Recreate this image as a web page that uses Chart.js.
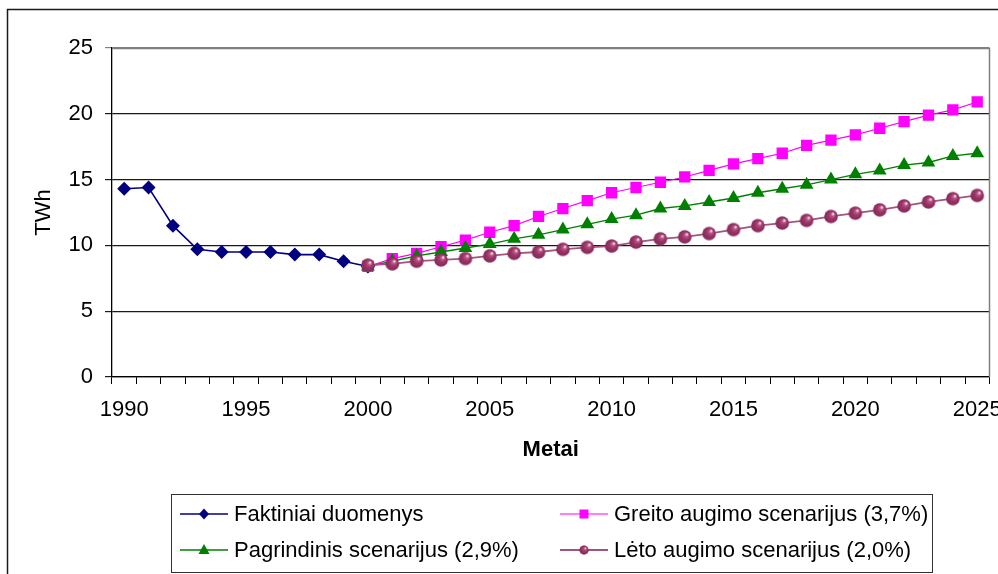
<!DOCTYPE html>
<html lang="lt">
<head>
<meta charset="utf-8">
<title>Elektros energijos poreikis</title>
<script src="https://cdn.jsdelivr.net/npm/chart.js@4/dist/chart.umd.min.js"></script>
<style>
  html, body { margin: 0; padding: 0; background: #ffffff; }
  #wrap { width: 998px; height: 574px; position: relative; }
  canvas { display: block; }
</style>
</head>
<body>
<div id="wrap"><canvas id="chart" width="998" height="574"></canvas></div>
<script>
// Years on the category axis
const years = [];
for (let y = 1990; y <= 2025; y++) years.push(String(y));

// Actual consumption, 1990–2000 (TWh)
const faktiniai = [14.3, 14.4, 11.5, 9.7, 9.5, 9.5, 9.5, 9.3, 9.3, 8.8, 8.4];

// Forecast scenarios, 2000–2025 (TWh)
const scenarioStart = 2000;
const greito = [8.4, 9.0, 9.4, 9.9, 10.4, 11.0, 11.5, 12.2, 12.8, 13.4, 14.0, 14.4, 14.8,
                15.2, 15.7, 16.2, 16.6, 17.0, 17.6, 18.0, 18.4, 18.9, 19.4, 19.9, 20.3, 20.9];
const pagrindinis = [8.4, 8.8, 9.2, 9.5, 9.8, 10.1, 10.5, 10.8, 11.2, 11.6, 12.0, 12.3, 12.8,
                     13.0, 13.3, 13.6, 14.0, 14.3, 14.6, 15.0, 15.4, 15.7, 16.1, 16.3, 16.8, 17.0];
const leto = [8.5, 8.6, 8.8, 8.9, 9.0, 9.2, 9.4, 9.5, 9.7, 9.85, 9.95, 10.25, 10.5,
              10.65, 10.9, 11.2, 11.5, 11.7, 11.9, 12.2, 12.45, 12.7, 13.0, 13.3, 13.55, 13.8];

// Y axis ticks
const yTicks = [0, 5, 10, 15, 20, 25];

const seriesLabels = [
  'Faktiniai duomenys',
  'Greito augimo scenarijus (3,7%)',
  'Pagrindinis scenarijus (2,9%)',
  'Lėto augimo scenarijus (2,0%)'
];

// Place a series that begins at a given year onto the full year axis
function alignToYears(values, startYear) {
  return years.map(y => {
    const i = Number(y) - startYear;
    return (i >= 0 && i < values.length) ? values[i] : null;
  });
}

const FONT = "'Liberation Sans', Arial, Helvetica, sans-serif";

// Shaded ball marker for the slow-growth series
function makeBall(r) {
  const s = Math.ceil(r * 2 + 2);
  const c = document.createElement('canvas');
  c.width = s; c.height = s;
  const g = c.getContext('2d');
  const cx = s / 2, cy = s / 2;
  const grad = g.createRadialGradient(cx + r * 0.35, cy - r * 0.4, r * 0.08, cx, cy, r);
  grad.addColorStop(0, '#f6dbe8');
  grad.addColorStop(0.22, '#b45584');
  grad.addColorStop(0.55, '#993366');
  grad.addColorStop(1, '#862a57');
  g.fillStyle = grad;
  g.beginPath();
  g.arc(cx, cy, r, 0, Math.PI * 2);
  g.fill();
  return c;
}
const ballBig = makeBall(6.8);

const COLORS = ['#000080', '#ff00ff', '#008000', '#993366'];

// Outer frame, plot-area frame and the boxed two-column legend
const framePlugin = {
  id: 'frames',
  beforeDraw(chart) {
    const ctx = chart.ctx;
    ctx.save();
    ctx.fillStyle = '#ffffff';
    ctx.fillRect(0, 0, chart.width, chart.height);
    ctx.restore();
  },
  beforeDatasetsDraw(chart) {
    const {ctx, chartArea: a} = chart;
    ctx.save();
    ctx.strokeStyle = '#808080';
    ctx.lineWidth = 1.5;
    ctx.beginPath();
    ctx.moveTo(a.left, Math.round(a.top) + 0.5);
    ctx.lineTo(Math.round(a.right) + 0.5, Math.round(a.top) + 0.5);
    ctx.lineTo(Math.round(a.right) + 0.5, a.bottom);
    ctx.stroke();
    ctx.restore();
  },
  afterDraw(chart) {
    const ctx = chart.ctx;
    ctx.save();
    // chart frame
    ctx.strokeStyle = '#1a1a1a';
    ctx.lineWidth = 1.5;
    ctx.beginPath();
    ctx.moveTo(7.5, chart.height);
    ctx.lineTo(7.5, 9.5);
    ctx.lineTo(chart.width, 9.5);
    ctx.stroke();

    // legend box
    const box = {x: 171.5, y: 494.5, w: 761, h: 78};
    ctx.strokeStyle = '#333333';
    ctx.lineWidth = 1;
    ctx.strokeRect(box.x, box.y, box.w, box.h);

    const slots = [
      {x: 180, y: 514}, {x: 560, y: 514},
      {x: 180, y: 550}, {x: 560, y: 550}
    ];
    ctx.font = '22px ' + FONT;
    ctx.textBaseline = 'middle';
    ctx.textAlign = 'left';
    chart.data.datasets.forEach((ds, k) => {
      const p = slots[k];
      const cx = p.x + 24;
      ctx.strokeStyle = ds.borderColor;
      ctx.lineWidth = ds.borderWidth;
      ctx.beginPath();
      ctx.moveTo(p.x, p.y);
      ctx.lineTo(p.x + 48, p.y);
      ctx.stroke();
      ctx.fillStyle = ds.pointBackgroundColor;
      ctx.beginPath();
      if (ds.pointStyle === 'rectRot') {
        ctx.moveTo(cx, p.y - 5.5); ctx.lineTo(cx + 5, p.y);
        ctx.lineTo(cx, p.y + 5.5); ctx.lineTo(cx - 5, p.y);
        ctx.closePath(); ctx.fill();
      } else if (ds.pointStyle === 'rect') {
        ctx.fillRect(cx - 4.5, p.y - 4.5, 9, 9);
      } else if (ds.pointStyle === 'triangle') {
        ctx.moveTo(cx, p.y - 6); ctx.lineTo(cx + 5.5, p.y + 4);
        ctx.lineTo(cx - 5.5, p.y + 4); ctx.closePath(); ctx.fill();
      } else {
        ctx.drawImage(ballBig, cx - 5.5, p.y - 5.5, 11, 11);
      }
      ctx.fillStyle = '#000000';
      ctx.fillText(ds.label, p.x + 54, p.y + 1);
    });
    ctx.restore();
  }
};

const chart = new Chart(document.getElementById('chart'), {
  type: 'line',
  data: {
    labels: years,
    datasets: [
      {
        label: seriesLabels[0],
        data: alignToYears(faktiniai, 1990),
        borderColor: COLORS[0], backgroundColor: COLORS[0],
        pointBackgroundColor: COLORS[0], pointBorderColor: COLORS[0],
        borderWidth: 1.6, pointStyle: 'rectRot', pointRadius: 7, pointBorderWidth: 0,
        tension: 0, order: 3
      },
      {
        label: seriesLabels[1],
        data: alignToYears(greito, scenarioStart),
        borderColor: COLORS[1], backgroundColor: COLORS[1],
        pointBackgroundColor: COLORS[1], pointBorderColor: COLORS[1],
        borderWidth: 1.2, pointStyle: 'rect', pointRadius: 8, pointBorderWidth: 0,
        tension: 0, order: 2
      },
      {
        label: seriesLabels[2],
        data: alignToYears(pagrindinis, scenarioStart),
        borderColor: COLORS[2], backgroundColor: COLORS[2],
        pointBackgroundColor: COLORS[2], pointBorderColor: COLORS[2],
        borderWidth: 1.4, pointStyle: 'triangle', pointRadius: 8, pointBorderWidth: 0,
        tension: 0, order: 1
      },
      {
        label: seriesLabels[3],
        data: alignToYears(leto, scenarioStart),
        borderColor: '#a4547c', backgroundColor: COLORS[3],
        pointBackgroundColor: COLORS[3], pointBorderColor: COLORS[3],
        borderWidth: 1.8, pointStyle: ballBig, pointRadius: 6.8,
        tension: 0, order: 0
      }
    ]
  },
  options: {
    responsive: false,
    animation: false,
    devicePixelRatio: 1,
    layout: { padding: { top: 48, right: 7, bottom: 111, left: 0 } },
    plugins: {
      legend: { display: false },
      tooltip: { enabled: false }
    },
    scales: {
      x: {
        type: 'category',
        offset: true,
        grid: {
          offset: true, drawOnChartArea: false, drawTicks: true,
          tickLength: 7, color: '#000000', lineWidth: 1
        },
        border: { display: true, color: '#000000', width: 1.3 },
        ticks: {
          autoSkip: false, maxRotation: 0, minRotation: 0, padding: 13,
          color: '#000000', font: { family: FONT, size: 22 },
          callback(value) {
            const y = Number(this.getLabelForValue(value));
            return y % 5 === 0 ? String(y) : '';
          }
        },
        title: {
          display: true, text: 'Metai', color: '#000000',
          font: { family: FONT, size: 22, weight: 'bold' },
          padding: { top: 0, bottom: 0 }
        },
        afterFit(scale) {
          scale.height = 86;
          scale.paddingLeft = 0;
          scale.paddingRight = 0;
        }
      },
      y: {
        min: 0, max: 25,
        afterBuildTicks(scale) { scale.ticks = yTicks.map(v => ({ value: v })); },
        grid: {
          drawTicks: true, tickLength: 7, lineWidth: 1.2,
          color(ctx) { return ctx.tick && ctx.tick.value === 25 ? '#808080' : '#1a1a1a'; }
        },
        border: { display: true, color: '#000000', width: 1.3 },
        ticks: {
          padding: 12, color: '#000000',
          font: { family: FONT, size: 22 }
        },
        title: {
          display: true, text: 'TWh', color: '#000000',
          font: { family: FONT, size: 22 },
          padding: { top: 31, bottom: 0 }
        },
        afterFit(scale) {
          scale.width = 112;
          scale.paddingTop = 0;
          scale.paddingBottom = 0;
        }
      }
    }
  },
  plugins: [framePlugin]
});
</script>
</body>
</html>
